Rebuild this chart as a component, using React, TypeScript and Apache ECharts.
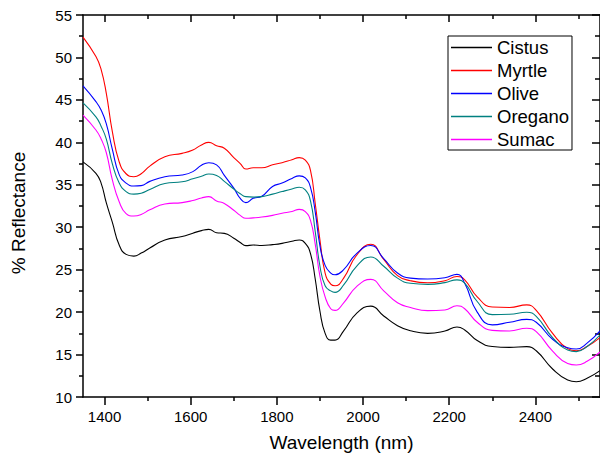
import React, { useEffect, useRef } from "react";
import * as echarts from "echarts";

const wavelengths = [1350, 1380, 1392, 1404, 1418, 1434, 1450, 1468, 1485, 1505, 1540, 1580, 1605, 1625, 1642, 1660, 1678, 1700, 1715, 1728, 1745, 1765, 1790, 1812, 1835, 1852, 1866, 1878, 1889, 1900, 1912, 1925, 1935, 1955, 1985, 2018, 2048, 2080, 2110, 2150, 2190, 2218, 2236, 2265, 2300, 2340, 2380, 2402, 2440, 2475, 2495, 2520, 2550];

const cistus = [37.7, 36.35, 35.2, 32.9, 30.6, 27.9, 26.8, 26.6, 26.95, 27.55, 28.5, 28.9, 29.3, 29.6, 29.75, 29.35, 29.28, 28.7, 28.2, 27.83, 27.9, 27.85, 27.95, 28.1, 28.35, 28.5, 28.1, 26.9, 23.9, 20.1, 17.5, 16.7, 16.7, 17.8, 19.85, 20.7, 19.55, 18.4, 17.8, 17.5, 17.78, 18.25, 17.9, 16.65, 15.95, 15.85, 15.93, 15.45, 13.3, 12.0, 11.8, 12.2, 13.1];

const myrtle = [52.4, 50.1, 48.6, 45.8, 41.3, 37.7, 36.3, 35.95, 36.3, 37.2, 38.3, 38.7, 39.1, 39.7, 40.0, 39.6, 39.3, 38.2, 37.5, 36.85, 37.0, 37.0, 37.35, 37.6, 37.95, 38.2, 37.9, 36.7, 32.8, 28.5, 24.6, 23.3, 23.1, 24.0, 26.7, 28.0, 26.2, 24.3, 23.7, 23.45, 23.7, 24.2, 23.8, 21.8, 20.6, 20.55, 20.85, 20.2, 17.5, 15.7, 15.45, 15.95, 17.0];

const olive = [46.65, 44.8, 43.8, 42.2, 39.2, 36.2, 35.2, 34.85, 34.9, 35.4, 35.95, 36.15, 36.55, 37.3, 37.6, 37.35, 36.1, 34.6, 33.4, 32.9, 33.4, 33.65, 34.8, 35.2, 35.75, 36.05, 35.8, 34.7, 31.8, 27.8, 25.5, 24.6, 24.4, 25.0, 26.9, 27.85, 26.3, 24.6, 24.0, 23.9, 24.05, 24.45, 23.4, 20.0, 18.5, 18.8, 19.15, 18.8, 16.8, 15.8, 15.65, 16.35, 17.8];

const oregano = [44.65, 43.0, 41.9, 40.4, 37.5, 35.2, 34.2, 33.9, 34.0, 34.45, 35.15, 35.35, 35.7, 36.0, 36.27, 36.1, 35.4, 34.5, 33.95, 33.6, 33.55, 33.6, 33.9, 34.2, 34.5, 34.7, 34.4, 33.1, 29.5, 25.4, 23.1, 22.5, 22.33, 23.2, 25.4, 26.5, 25.4, 24.0, 23.4, 23.27, 23.47, 23.8, 23.4, 21.25, 19.7, 19.74, 19.98, 19.5, 17.0, 15.55, 15.35, 15.95, 17.3];

const sumac = [43.2, 41.45, 40.4, 38.8, 35.6, 33.0, 31.6, 31.32, 31.5, 32.05, 32.74, 32.9, 33.15, 33.45, 33.6, 33.1, 32.8, 32.0, 31.4, 31.05, 31.1, 31.2, 31.4, 31.64, 31.85, 32.1, 31.85, 30.8, 28.0, 24.2, 21.8, 20.4, 20.2, 21.1, 23.0, 23.86, 22.5, 21.1, 20.55, 20.17, 20.25, 20.75, 20.4, 18.8, 17.85, 17.78, 18.1, 17.7, 15.4, 13.95, 13.77, 14.2, 15.3];

const seriesNames = ["Cistus", "Myrtle", "Olive", "Oregano", "Sumac"];
const seriesValues = [cistus, myrtle, olive, oregano, sumac];
const seriesColors = ["#000000", "#ff0000", "#0000ff", "#008080", "#ff00ff"];

const xMajorTicks = [1400, 1600, 1800, 2000, 2200, 2400];
const xMinorTicks = [1500, 1700, 1900, 2100, 2300, 2500];
const xMin = 1350;
const xMax = 2550;
const yMin = 10;
const yMax = 55;
const yStep = 5;

const FONT = 'Arial, "Liberation Sans", sans-serif';

export default function App() {
  const ref = useRef<HTMLDivElement>(null);

  useEffect(() => {
    if (!ref.current) return;
    const chart = echarts.init(ref.current, undefined, { renderer: "svg" });

    const axisLineStyle = { color: "#000", width: 1.5 };
    const baseX = {
      type: "value",
      min: xMin,
      max: xMax,
      splitLine: { show: false },
    };

    const option: any = {
      animation: false,
      backgroundColor: "#fff",
      textStyle: { fontFamily: FONT },
      grid: { left: 83, top: 15, width: 520, height: 382, containLabel: false },
      legend: {
        orient: "vertical",
        left: 448,
        top: 36,
        padding: [2, 3, 1, 3],
        itemGap: 4,
        itemWidth: 41,
        itemHeight: 1.4,
        icon: "rect",
        backgroundColor: "#fff",
        borderColor: "#000",
        borderWidth: 1,
        borderRadius: 0,
        textStyle: { fontSize: 18.5, color: "#000", fontFamily: FONT, lineHeight: 19 },
        data: seriesNames,
      },
      xAxis: [
        {
          ...baseX,
          position: "bottom",
          axisLine: { show: true, onZero: false, lineStyle: axisLineStyle },
          axisTick: { show: true, customValues: xMajorTicks, length: 8, lineStyle: axisLineStyle },
          axisLabel: {
            show: true,
            customValues: xMajorTicks,
            fontSize: 15,
            color: "#000",
            margin: 12,
            fontFamily: FONT,
            formatter: (v: number) => String(v),
          },
          name: "Wavelength (nm)",
          nameLocation: "middle",
          nameGap: 36,
          nameTextStyle: { fontSize: 19, color: "#000", fontFamily: FONT },
        },
        {
          ...baseX,
          position: "bottom",
          axisLine: { show: false, onZero: false },
          axisTick: { show: true, customValues: xMinorTicks, length: 4, lineStyle: axisLineStyle },
          axisLabel: { show: false },
        },
        {
          ...baseX,
          position: "top",
          axisLine: { show: true, onZero: false, lineStyle: axisLineStyle },
          axisTick: { show: true, inside: true, customValues: xMajorTicks, length: 7, lineStyle: axisLineStyle },
          axisLabel: { show: false },
        },
        {
          ...baseX,
          position: "top",
          axisLine: { show: false, onZero: false },
          axisTick: { show: true, inside: true, customValues: xMinorTicks, length: 4, lineStyle: axisLineStyle },
          axisLabel: { show: false },
        },
      ],
      yAxis: [
        {
          type: "value",
          position: "left",
          min: yMin,
          max: yMax,
          interval: yStep,
          axisLine: { show: true, onZero: false, lineStyle: axisLineStyle },
          axisTick: { show: true, length: 7, lineStyle: axisLineStyle },
          minorTick: { show: true, splitNumber: 2, length: 4, lineStyle: { color: "#000", width: 1.5 } },
          axisLabel: { show: true, fontSize: 15, color: "#000", margin: 11, fontFamily: FONT },
          splitLine: { show: false },
        },
        {
          type: "value",
          position: "right",
          min: yMin,
          max: yMax,
          interval: yStep,
          axisLine: { show: true, onZero: false, lineStyle: axisLineStyle },
          axisTick: { show: true, inside: true, length: 8, lineStyle: axisLineStyle },
          minorTick: { show: true, splitNumber: 2, length: 5, lineStyle: { color: "#000", width: 1.5 } },
          axisLabel: { show: false },
          splitLine: { show: false },
        },
      ],
      graphic: [
        {
          type: "text",
          x: 18,
          y: 213,
          rotation: Math.PI / 2,
          style: {
            text: "% Reflectance",
            fontSize: 19,
            fill: "#000",
            fontFamily: FONT,
            align: "center",
            verticalAlign: "middle",
          },
        },
      ],
      series: seriesNames.map((name, k) => ({
        name,
        type: "line",
        xAxisIndex: 0,
        yAxisIndex: 0,
        data: wavelengths.map((w, i) => [w, seriesValues[k][i]]),
        symbol: "none",
        smooth: 0.5,
        lineStyle: { color: seriesColors[k], width: 1.1 },
        itemStyle: { color: seriesColors[k] },
      })),
    };

    chart.setOption(option);
    return () => chart.dispose();
  }, []);

  return (
    <div
      ref={ref}
      style={{ position: "absolute", left: 0, top: 0, width: 600, height: 458 }}
    />
  );
}
